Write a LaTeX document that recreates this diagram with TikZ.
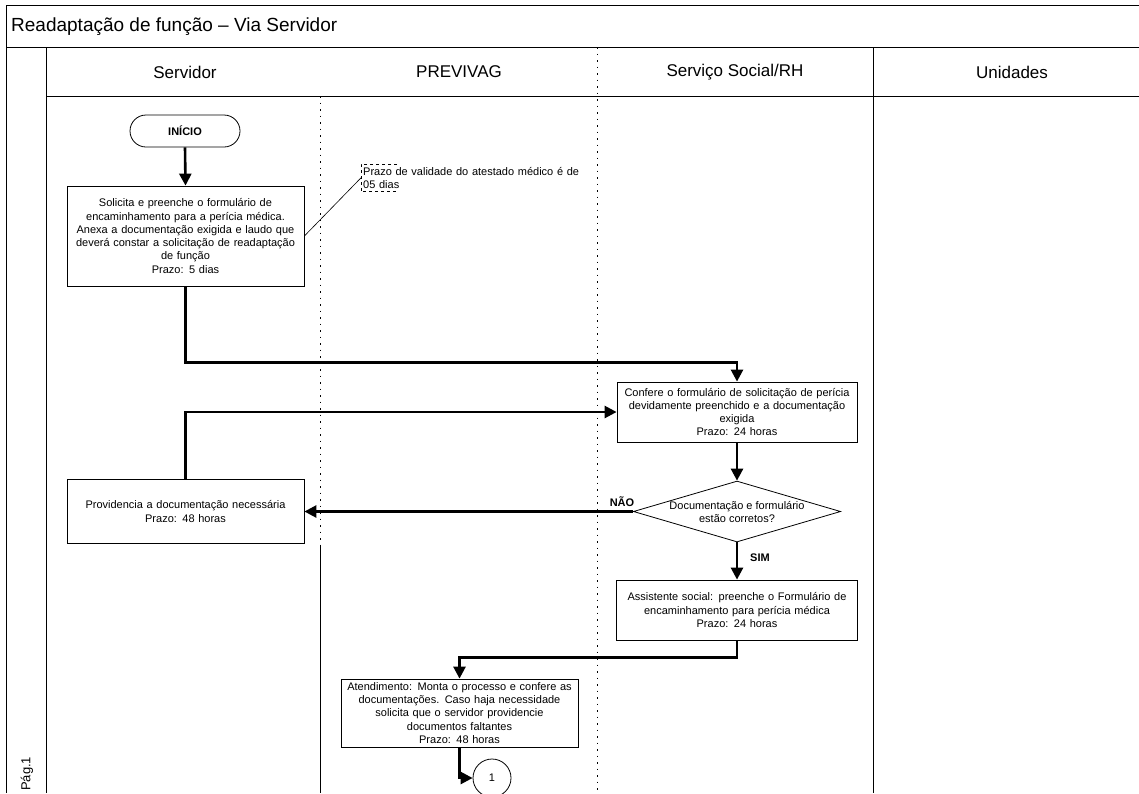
\documentclass[tikz,border=0pt]{standalone}
\usepackage{fontspec}
\setmainfont{Liberation Sans}
\usetikzlibrary{shapes.geometric,arrows.meta}

\begin{document}
\begin{tikzpicture}[x=1pt,y=-1pt,
  frame/.style={line width=0.8pt},
  laneline/.style={line width=0.7pt},
  dotline/.style={line width=0.7pt, dash pattern=on 1.5pt off 5pt},
  lanetitle/.style={font=\fontsize{17}{20}\selectfont},
  proc/.style={draw, line width=0.8pt, align=center, inner sep=2pt,
               font=\fontsize{11}{13.3}\selectfont},
  term/.style={draw, line width=0.8pt, rounded corners=16pt,
               minimum width=110pt, minimum height=32pt,
               font=\bfseries\fontsize{11}{13}\selectfont},
  decision/.style={draw, diamond, line width=0.8pt, inner sep=0pt, aspect=3.4,
                   align=center, font=\fontsize{11}{13}\selectfont},
  connector/.style={draw, circle, line width=0.8pt, minimum size=38pt,
                    inner sep=0pt, font=\fontsize{11}{13}\selectfont},
  notetext/.style={align=left, inner xsep=2pt, inner ysep=3pt,
                   font=\fontsize{11}{13}\selectfont},
  flowlabel/.style={font=\bfseries\fontsize{11}{13}\selectfont},
  flow/.style={line width=2.6pt, -{Triangle[length=12pt,width=12pt]}}
]
\useasboundingbox (0,0) rectangle (1139,793);
\clip (0,0) rectangle (1139,793);

% pool frame, title row and lane header row
\draw[frame] (1139,5) -- (6,5) -- (6,793);
\draw[frame] (6,47) -- (1139,47);
\draw[frame] (46,96) -- (1139,96);
\draw[frame] (46,47) -- (46,793);

% lane separators
\draw[dotline] (320,96) -- (320,545);
\draw[laneline] (320,545) -- (320,793);
\draw[dotline] (597,47) -- (597,793);
\draw[laneline] (873,47) -- (873,793);

% titles
\node[anchor=west, inner sep=0pt, font=\fontsize{19}{22}\selectfont] (title) at (11,27)
  {Readaptação de função – Via Servidor};
\node[lanetitle] (lane1) at (185,72) {Servidor};
\node[lanetitle] (lane2) at (459,72) {PREVIVAG};
\node[lanetitle] (lane3) at (735,72) {Serviço Social/RH};
\node[lanetitle] (lane4) at (1012,72) {Unidades};
\node[rotate=90, anchor=west, inner sep=0pt, font=\fontsize{13}{15}\selectfont] (page) at (27,791) {Pág.1};

% flow nodes
\node[term] (inicio) at (185,131) {INÍCIO};
\node[proc, minimum width=237pt, minimum height=100pt, text width=230pt] (solicita) at (185.5,236)
  {Solicita e preenche o formulário de\\
   encaminhamento para a perícia médica.\\
   Anexa a documentação exigida e laudo que\\
   deverá constar a solicitação de readaptação\\
   de função\\
   Prazo: 5 dias};
\node[notetext, anchor=north west, text width=235pt] (nota) at (361,164)
  {Prazo de validade do atestado médico é de\\05 dias};
\node[proc, minimum width=240pt, minimum height=60pt, text width=234pt] (confere) at (737,412)
  {Confere o formulário de solicitação de perícia\\
   devidamente preenchido e a documentação\\
   exigida\\
   Prazo: 24 horas};
\node[decision, minimum width=198pt, minimum height=57pt] (decide) at (737,511.5)
  {Documentação e formulário\\estão corretos?};
\node[proc, minimum width=237pt, minimum height=64pt, text width=230pt] (provid) at (185.5,511.5)
  {Providencia a documentação necessária\\
   Prazo: 48 horas};
\node[proc, minimum width=241pt, minimum height=60pt, text width=234pt] (assist) at (737,610)
  {Assistente social: preenche o Formulário de\\
   encaminhamento para perícia médica\\
   Prazo: 24 horas};
\node[proc, minimum width=237pt, minimum height=68pt, text width=230pt] (atend) at (459.5,713)
  {Atendimento: Monta o processo e confere as\\
   documentações. Caso haja necessidade\\
   solicita que o servidor providencie\\
   documentos faltantes\\
   Prazo: 48 horas};
\node[connector] (con1) at (492,778) {1};

% annotation bracket and its link
\draw[line width=0.6pt, dashed] ([xshift=36pt]nota.north west) -- (nota.north west)
  -- (nota.south west) -- ([xshift=36pt]nota.south west);
\draw[line width=0.6pt] (solicita.east) -- (nota.west);

% connectors
\draw[flow] (inicio.south) -- (solicita.north);
\draw[flow] (solicita.south) -- ++(0,76) -| (confere.north);
\draw[flow] (confere.south) -- (decide.north);
\draw[flow] (decide.west) -- (provid.east);
\draw[flow] (provid.north) |- (confere.west);
\draw[flow] (decide.south) -- (assist.north);
\draw[flow] (assist.south) -- ++(0,17) -| (atend.north);
\draw[flow] (atend.south) |- (con1.west);

% branch labels
\node[flowlabel] (nao) at (622,502) {NÃO};
\node[flowlabel] (sim) at (760,558) {SIM};
\end{tikzpicture}
\end{document}
